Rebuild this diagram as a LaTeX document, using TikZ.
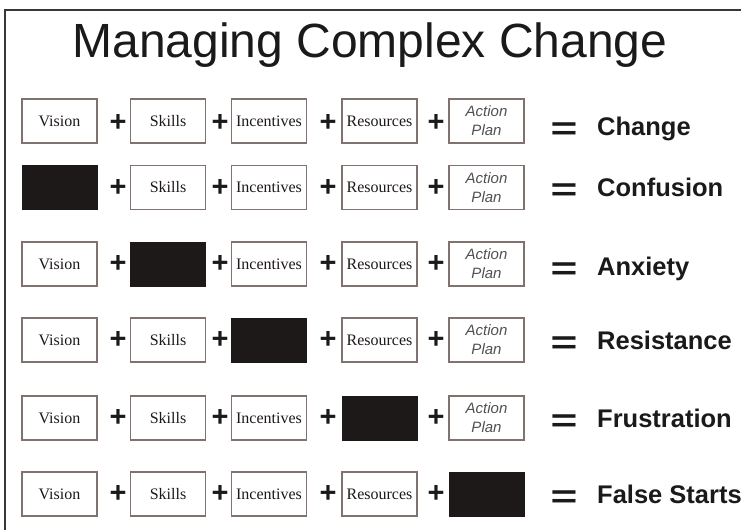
\documentclass[tikz,border=0pt]{standalone}
\usepackage{fontspec}
\setmainfont{Liberation Serif}
\newfontfamily\arialfont{Liberation Sans}
\usepackage{tikz}

\begin{document}
\begin{tikzpicture}[x=1pt,y=-1pt,
    box/.style={draw=boxbrown, line width=1.2pt, minimum width=75pt, minimum height=44pt,
        inner sep=0pt, text=labeldark, font=\fontsize{16}{18}\selectfont},
    blank/.style={draw=blankblack, fill=blankblack, minimum width=75pt, minimum height=44pt, inner sep=0pt},
    actbox/.style={box, align=center, text=actgray, font=\arialfont\itshape\fontsize{15}{19}\selectfont},
    plus/.style={inner sep=0pt, text=signblack, font=\arialfont\bfseries\fontsize{29}{29}\selectfont},
    equals/.style={inner sep=0pt, yshift=-5pt, text=signblack, font=\arialfont\bfseries\fontsize{46}{46}\selectfont},
    result/.style={anchor=west, inner sep=0pt, text height=18.3pt, text depth=0pt,
        text=signblack, font=\arialfont\bfseries\fontsize{25.5}{26}\selectfont}]
    % colours
    \definecolor{boxbrown}{RGB}{128, 114, 110}
    \definecolor{labeldark}{RGB}{30, 24, 24}
    \definecolor{actgray}{RGB}{80, 80, 80}
    \definecolor{blankblack}{RGB}{28, 25, 24}
    \definecolor{signblack}{RGB}{26, 26, 26}
    \definecolor{framegray}{RGB}{55, 55, 55}

    \useasboundingbox (0,0) rectangle (741,530);

    % frame and title
    \draw[framegray, line width=1.5pt] (5,530) -- (5,10) -- (741,10);
    \node[inner sep=0pt, text height=34.4pt, text depth=0pt, text=signblack,
        font=\arialfont\fontsize{48}{50}\selectfont] (title) at (370,40) {Managing Complex Change};

    % row 1: everything present
    \node[box] (vis1) at (59.5,121) {Vision};
    \node[plus] (pl1a) at (118,123) {+};
    \node[box] (ski1) at (168,121) {Skills};
    \node[plus] (pl1b) at (220,123) {+};
    \node[box] (inc1) at (269,121) {Incentives};
    \node[plus] (pl1c) at (328,123) {+};
    \node[box] (res1) at (379.5,121) {Resources};
    \node[plus] (pl1d) at (436,123) {+};
    \node[actbox] (act1) at (486.5,121) {Action\\Plan};
    \node[equals] (eq1) at (564,126) {\scalebox{1}[0.7]{=}};
    \node[result] (out1) at (597,126) {Change};

    % row 2: no vision
    \node[blank] (vis2) at (59.5,187.5) {};
    \node[plus] (pl2a) at (118,187.5) {+};
    \node[box] (ski2) at (168,187.5) {Skills};
    \node[plus] (pl2b) at (220,187.5) {+};
    \node[box] (inc2) at (269,187.5) {Incentives};
    \node[plus] (pl2c) at (328,187.5) {+};
    \node[box] (res2) at (379.5,187.5) {Resources};
    \node[plus] (pl2d) at (436,187.5) {+};
    \node[actbox] (act2) at (486.5,187.5) {Action\\Plan};
    \node[equals] (eq2) at (564,187.5) {\scalebox{1}[0.7]{=}};
    \node[result] (out2) at (597,187.5) {Confusion};

    % row 3: no skills
    \node[box] (vis3) at (59.5,264) {Vision};
    \node[plus] (pl3a) at (118,264) {+};
    \node[blank] (ski3) at (168,264) {};
    \node[plus] (pl3b) at (220,264) {+};
    \node[box] (inc3) at (269,264) {Incentives};
    \node[plus] (pl3c) at (328,264) {+};
    \node[box] (res3) at (379.5,264) {Resources};
    \node[plus] (pl3d) at (436,264) {+};
    \node[actbox] (act3) at (486.5,264) {Action\\Plan};
    \node[equals] (eq3) at (564,266) {\scalebox{1}[0.7]{=}};
    \node[result] (out3) at (597,266) {Anxiety};

    % row 4: no incentives
    \node[box] (vis4) at (59.5,340) {Vision};
    \node[plus] (pl4a) at (118,340) {+};
    \node[box] (ski4) at (168,340) {Skills};
    \node[plus] (pl4b) at (220,340) {+};
    \node[blank] (inc4) at (269,340) {};
    \node[plus] (pl4c) at (328,340) {+};
    \node[box] (res4) at (379.5,340) {Resources};
    \node[plus] (pl4d) at (436,340) {+};
    \node[actbox] (act4) at (486.5,340) {Action\\Plan};
    \node[equals] (eq4) at (564,340) {\scalebox{1}[0.7]{=}};
    \node[result] (out4) at (597,340) {Resistance};

    % row 5: no resources
    \node[box] (vis5) at (59.5,418) {Vision};
    \node[plus] (pl5a) at (118,418) {+};
    \node[box] (ski5) at (168,418) {Skills};
    \node[plus] (pl5b) at (220,418) {+};
    \node[box] (inc5) at (269,418) {Incentives};
    \node[plus] (pl5c) at (328,418) {+};
    \node[blank] (res5) at (379.5,418) {};
    \node[plus] (pl5d) at (436,418) {+};
    \node[actbox] (act5) at (486.5,418) {Action\\Plan};
    \node[equals] (eq5) at (564,418) {\scalebox{1}[0.7]{=}};
    \node[result] (out5) at (597,418) {Frustration};

    % row 6: no action plan
    \node[box] (vis6) at (59.5,494) {Vision};
    \node[plus] (pl6a) at (118,494) {+};
    \node[box] (ski6) at (168,494) {Skills};
    \node[plus] (pl6b) at (220,494) {+};
    \node[box] (inc6) at (269,494) {Incentives};
    \node[plus] (pl6c) at (328,494) {+};
    \node[box] (res6) at (379.5,494) {Resources};
    \node[plus] (pl6d) at (436,494) {+};
    \node[blank] (act6) at (486.5,494) {};
    \node[equals] (eq6) at (564,494) {\scalebox{1}[0.7]{=}};
    \node[result] (out6) at (597,494) {False Starts};

\end{tikzpicture}
\end{document}
